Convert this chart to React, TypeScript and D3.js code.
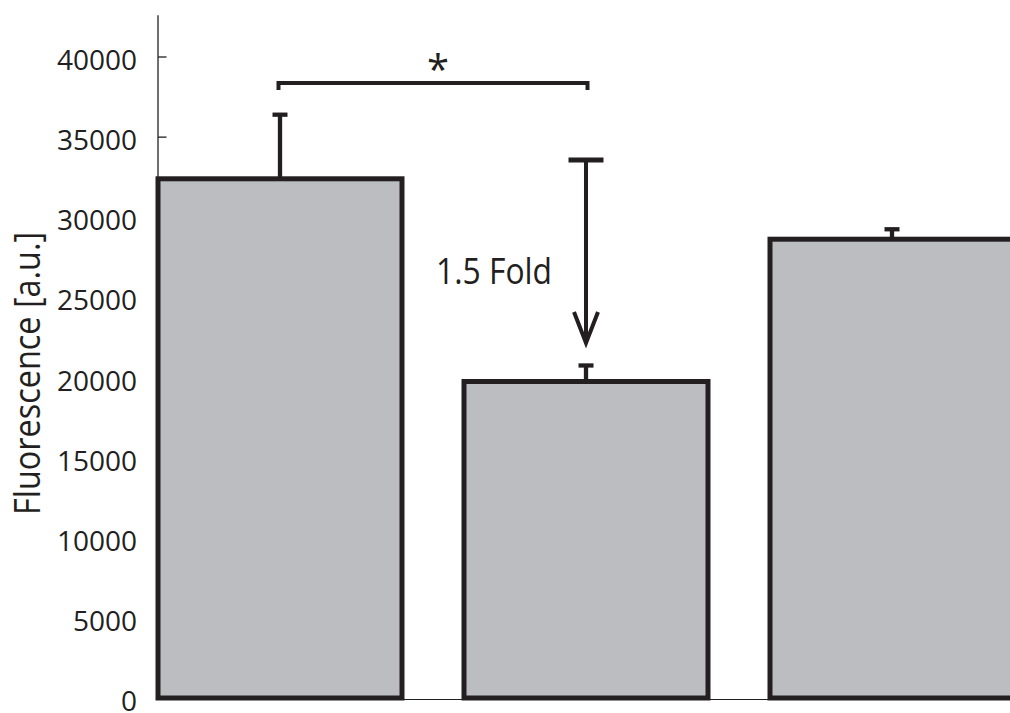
import React from 'react';
import * as d3 from 'd3';

const categories = ['Sample 1', 'Sample 2', 'Sample 3'];
const means = [32400, 19750, 28630];
const errors = [4000, 1000, 620];
const yTicks = [0, 5000, 10000, 15000, 20000, 25000, 30000, 35000, 40000];
const yAxisTop = 42600;
const bracketValue = 38380;
const bracketPair = [0, 1];
const arrowFromValue = 33570;
const arrowToValue = 22150;
const arrowCategory = 1;
const yLabel = 'Fluorescence [a.u.]';
const foldLabel = '1.5 Fold';
const sigLabel = '*';

const W = 1010;
const H = 713;
const dark = '#231f20';
const fill = '#bcbdc0';
const font = "'Open Sans', 'DejaVu Sans', sans-serif";

export default function App() {
  const x = d3.scaleBand<string>().domain(categories).range([158, 1014]).paddingInner(62 / 306).paddingOuter(0);
  const y = d3.scaleLinear().domain([0, 40000]).range([698, 57]);
  const bw = x.bandwidth();
  const cx = (i: number) => (x(categories[i]) as number) + bw / 2;
  const axisX = 158;

  const ax = cx(arrowCategory);
  const tipY = y(arrowToValue);

  return (
    <svg width={W} height={H} style={{ position: 'absolute', left: 0, top: 0, background: '#fff' }} fontFamily={font}>
      <rect x={0} y={0} width={W} height={H} fill="#ffffff" />
      {/* baseline */}
      <line x1={axisX} x2={W} y1={y(0) + 1.5} y2={y(0) + 1.5} stroke={dark} strokeWidth={1.2} />
      {/* y axis */}
      <line x1={axisX} x2={axisX} y1={y(0)} y2={y(yAxisTop)} stroke={dark} strokeWidth={1.3} />
      {yTicks.map((t) => (
        <g key={t}>
          {t > 0 && <line x1={axisX} x2={axisX + 8.5} y1={y(t)} y2={y(t)} stroke={dark} strokeWidth={1.3} />}
          <text x={137} y={y(t) + 13} textAnchor="end" fontSize={28} fill={dark}>{t}</text>
        </g>
      ))}
      <text
        transform={`translate(40, ${373.5}) rotate(-90)`}
        textAnchor="middle"
        fontSize={36}
        fill={dark}
        textLength={283}
        lengthAdjust="spacingAndGlyphs"
      >{yLabel}</text>

      {/* bars */}
      {categories.map((c, i) => (
        <g key={c}>
          <line x1={cx(i)} x2={cx(i)} y1={y(means[i])} y2={y(means[i] + errors[i])} stroke={dark} strokeWidth={4.3} />
          <line x1={cx(i) - 7.5} x2={cx(i) + 7.5} y1={y(means[i] + errors[i])} y2={y(means[i] + errors[i])} stroke={dark} strokeWidth={4.3} />
          <rect x={x(c)} y={y(means[i])} width={bw} height={y(0) - y(means[i])} fill={fill} stroke={dark} strokeWidth={5} />
        </g>
      ))}

      {/* significance bracket */}
      <path
        d={`M${cx(bracketPair[0]) - 1.5},${y(bracketValue) + 7} V${y(bracketValue)} H${cx(bracketPair[1]) + 1.5} V${y(bracketValue) + 7}`}
        fill="none"
        stroke={dark}
        strokeWidth={4}
      />
      <text x={438} y={84} textAnchor="middle" fontSize={40} fill={dark}>{sigLabel}</text>

      {/* fold arrow */}
      <line x1={ax} x2={ax} y1={y(arrowFromValue)} y2={tipY - 3} stroke={dark} strokeWidth={4} />
      <line x1={ax - 17.5} x2={ax + 17.5} y1={y(arrowFromValue)} y2={y(arrowFromValue)} stroke={dark} strokeWidth={5} />
      <path d={`M${ax - 12},${tipY - 31} L${ax},${tipY} L${ax + 12},${tipY - 31}`} fill="none" stroke={dark} strokeWidth={4} strokeLinejoin="miter" />
      <text x={436} y={284} fontSize={36} fill={dark} textLength={116} lengthAdjust="spacingAndGlyphs">{foldLabel}</text>
    </svg>
  );
}
